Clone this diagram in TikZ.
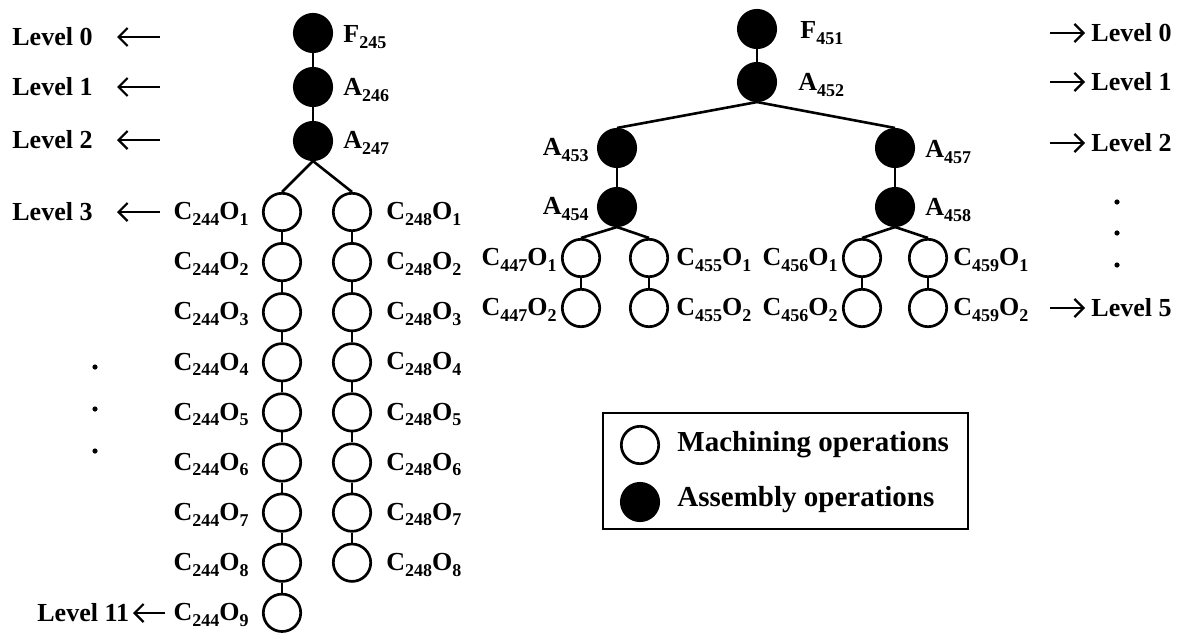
\documentclass[tikz,border=0pt]{standalone}
\usepackage{fontspec}
\setmainfont{Liberation Serif}
\usetikzlibrary{arrows.meta}
\newcommand\sbx[1]{\raisebox{-0.22em}{\fontsize{9}{9}\selectfont #1}}
\begin{document}
\begin{tikzpicture}[x=0.5pt,y=-0.5pt,
  mach/.style={circle,draw,line width=1.35pt,minimum size=18.7pt,inner sep=0pt,fill=white},
  asm/.style={circle,draw,fill=black,line width=1.35pt,minimum size=18.7pt,inner sep=0pt},
  edge/.style={line width=1.3pt},
  lbl/.style={inner sep=0pt,font=\fontsize{13}{15}\selectfont\bfseries},
  leg/.style={inner sep=0pt,font=\fontsize{14.5}{17}\selectfont\bfseries},
  lvarrow/.style={line width=1.1pt,-{Straight Barb[length=4.5pt,width=9pt,line width=1.1pt]}},
  dotm/.style={circle,fill=black,inner sep=0pt,minimum size=2.6pt}]
\useasboundingbox (0,0) rectangle (1182,637);
% ---------- left tree ----------
\node[asm] (F245) at (313,33) {};
\node[asm] (A246) at (313,87) {};
\node[asm] (A247) at (313,141) {};
\node[lbl,anchor=west] (tF245) at (343,37) {F\sbx{245}};
\node[lbl,anchor=west] (tA246) at (343,90) {A\sbx{246}};
\node[lbl,anchor=west] (tA247) at (343,143) {A\sbx{247}};
\draw[edge] (F245) -- (A246);
\draw[edge] (A246) -- (A247);
\foreach \i in {1,...,9}{
  \node[mach] (L\i) at (282,{212+50.1*(\i-1)}) {};
  \node[lbl,anchor=east] (tL\i) at (249,{214+50.1*(\i-1)}) {C\sbx{244}O\sbx{\i}};
}
\foreach \i in {1,...,8}{
  \node[mach] (R\i) at (352,{212+50.1*(\i-1)}) {};
  \node[lbl,anchor=west] (tR\i) at (386,{214+50.1*(\i-1)}) {C\sbx{248}O\sbx{\i}};
}
\foreach \i in {1,...,8}{
  \pgfmathtruncatemacro\j{\i+1}
  \draw[edge] (L\i) -- (L\j);
}
\foreach \i in {1,...,7}{
  \pgfmathtruncatemacro\j{\i+1}
  \draw[edge] (R\i) -- (R\j);
}
\draw[edge] (A247.south) -- (L1.north);
\draw[edge] (A247.south) -- (R1.north);
% left levels
\node[lbl,anchor=west] (lv0) at (12,37) {Level 0};
\node[lbl,anchor=west] (lv1) at (12,87) {Level 1};
\node[lbl,anchor=west] (lv2) at (12,140) {Level 2};
\node[lbl,anchor=west] (lv3) at (12,212) {Level 3};
\node[lbl,anchor=west] (lv11) at (37,613) {Level 11};
\coordinate (a0) at (160,37); \coordinate (b0) at (117,37);
\coordinate (a1) at (160,87); \coordinate (b1) at (117,87);
\coordinate (a2) at (160,140); \coordinate (b2) at (117,140);
\coordinate (a3) at (160,212); \coordinate (b3) at (117,212);
\coordinate (a11) at (165,613); \coordinate (b11) at (133,613);
\foreach \k in {0,1,2,3,11}{\draw[lvarrow] (a\k) -- (b\k);}
\node[dotm] (ld1) at (95,367) {};
\node[dotm] (ld2) at (95,409) {};
\node[dotm] (ld3) at (95,451) {};
% ---------- right tree ----------
\node[asm] (F451) at (757,29) {};
\node[asm] (A452) at (757,82) {};
\node[asm] (A453) at (617,148) {};
\node[asm] (A457) at (895,148) {};
\node[asm] (A454) at (617,207) {};
\node[asm] (A458) at (895,207) {};
\draw[edge] (F451) -- (A452);
\draw[edge] (A452.south) -- (A453.north);
\draw[edge] (A452.south) -- (A457.north);
\draw[edge] (A453) -- (A454);
\draw[edge] (A457) -- (A458);
\node[lbl,anchor=west] (tF451) at (800,33) {F\sbx{451}};
\node[lbl,anchor=west] (tA452) at (798,85) {A\sbx{452}};
\node[lbl,anchor=east] (tA453) at (589,150) {A\sbx{453}};
\node[lbl,anchor=west] (tA457) at (925,152) {A\sbx{457}};
\node[lbl,anchor=east] (tA454) at (589,209) {A\sbx{454}};
\node[lbl,anchor=west] (tA458) at (925,210) {A\sbx{458}};
\node[mach] (m1) at (581,258) {};
\node[mach] (m2) at (581,308) {};
\node[mach] (m3) at (649,258) {};
\node[mach] (m4) at (649,308) {};
\node[mach] (m5) at (862,258) {};
\node[mach] (m6) at (862,308) {};
\node[mach] (m7) at (928,258) {};
\node[mach] (m8) at (928,308) {};
\draw[edge] (A454.south) -- (m1.north);
\draw[edge] (A454.south) -- (m3.north);
\draw[edge] (A458.south) -- (m5.north);
\draw[edge] (A458.south) -- (m7.north);
\draw[edge] (m1) -- (m2);
\draw[edge] (m3) -- (m4);
\draw[edge] (m5) -- (m6);
\draw[edge] (m7) -- (m8);
\node[lbl,anchor=east] (t1) at (557,260) {C\sbx{447}O\sbx{1}};
\node[lbl,anchor=east] (t2) at (557,310) {C\sbx{447}O\sbx{2}};
\node[lbl,anchor=west] (t3) at (676,260) {C\sbx{455}O\sbx{1}};
\node[lbl,anchor=west] (t4) at (676,310) {C\sbx{455}O\sbx{2}};
\node[lbl,anchor=east] (t5) at (838,260) {C\sbx{456}O\sbx{1}};
\node[lbl,anchor=east] (t6) at (838,310) {C\sbx{456}O\sbx{2}};
\node[lbl,anchor=west] (t7) at (953,260) {C\sbx{459}O\sbx{1}};
\node[lbl,anchor=west] (t8) at (953,310) {C\sbx{459}O\sbx{2}};
% right levels
\node[lbl,anchor=west] (rv0) at (1091,33) {Level 0};
\node[lbl,anchor=west] (rv1) at (1091,82) {Level 1};
\node[lbl,anchor=west] (rv2) at (1091,143) {Level 2};
\node[lbl,anchor=west] (rv5) at (1091,308) {Level 5};
\foreach \k/\yy in {0/33,1/82,2/143,5/308}{
  \coordinate (ra\k) at (1050,\yy);
  \draw[lvarrow] (ra\k) -- (1085,\yy);
}
\node[dotm] (rd1) at (1117,202) {};
\node[dotm] (rd2) at (1117,233) {};
\node[dotm] (rd3) at (1117,265) {};
% ---------- legend ----------
\node[draw,line width=1.2pt,minimum width=182.5pt,minimum height=58pt,inner sep=0pt] (legbox) at (785.5,471) {};
\node[mach] (lgm) at (640,445) {};
\node[asm] (lga) at (640,502) {};
\node[leg,anchor=west] (lgmt) at (677,445) {Machining operations};
\node[leg,anchor=west] (lgat) at (677,500) {Assembly operations};
\end{tikzpicture}
\end{document}
